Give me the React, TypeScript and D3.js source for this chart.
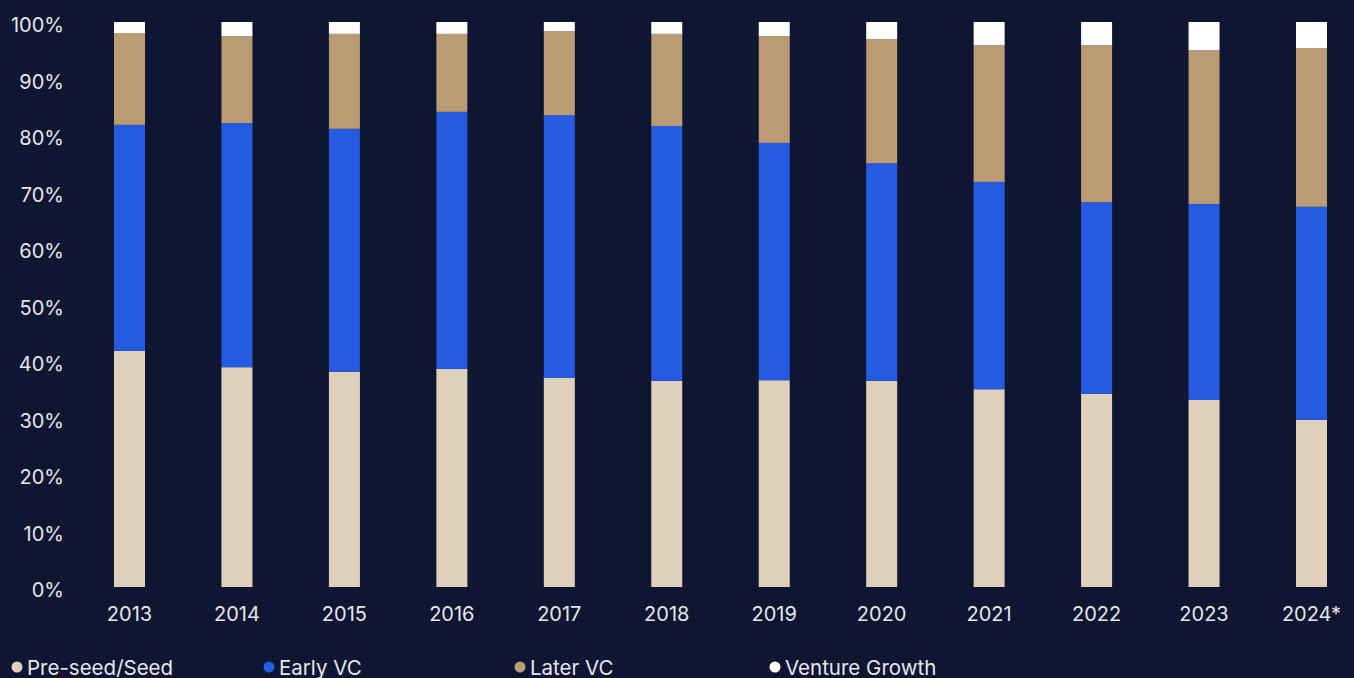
import React from "react";
import * as d3 from "d3";

const years = ["2013","2014","2015","2016","2017","2018","2019","2020","2021","2022","2023","2024*"];
const preSeed = [41.8, 38.9, 38.1, 38.6, 37.0, 36.5, 36.6, 36.5, 35.0, 34.2, 33.1, 29.6];
const earlyVC = [40.0, 43.2, 43.0, 45.5, 46.5, 45.1, 42.0, 38.5, 36.7, 33.9, 34.7, 37.7];
const laterVC = [16.25, 15.4, 16.8, 13.8, 14.9, 16.3, 18.9, 22.0, 24.2, 27.8, 27.2, 28.1];
const ventureGrowth = [1.95, 2.5, 2.1, 2.1, 1.6, 2.1, 2.5, 3.0, 4.1, 4.1, 5.0, 4.6];
const yTicks = [0, 10, 20, 30, 40, 50, 60, 70, 80, 90, 100];

const seriesNames = ["Pre-seed/Seed", "Early VC", "Later VC", "Venture Growth"];
const seriesColors = ["#dfd0bc", "#245be0", "#bb9b74", "#ffffff"];

const W = 1354, H = 678;
const FONT = "Inter, 'Noto Sans', sans-serif";

export default function App() {
  const x = d3.scalePoint<string>().domain(years).range([129.5, 1311.5]);
  const y = d3.scaleLinear().domain([0, 100]).range([587, 22]);
  const bw = 31;

  const table = years.map((yr, i) => ({
    year: yr,
    s0: preSeed[i], s1: earlyVC[i], s2: laterVC[i], s3: ventureGrowth[i],
  }));
  const stack = d3.stack<any>().keys(["s0", "s1", "s2", "s3"])(table);

  const legendX = [17, 269, 520, 775];

  return (
    <svg width={W} height={H} style={{ position: "absolute", left: 0, top: 0, display: "block" }}>
      <rect x={0} y={0} width={W} height={H} fill="#0f1631" />
      {yTicks.map((t) => (
        <text key={t} x={64} y={y(t) + 3} textAnchor="end" dominantBaseline="central"
          fill="#e6e6ec" fontSize={20} fontFamily={FONT}>{t}%</text>
      ))}
      {stack.map((layer, li) => (
        <g key={li} fill={seriesColors[li]}>
          {layer.map((d, i) => {
            const top = y(Math.min(100, d[1]));
            const bot = y(d[0]);
            return <rect key={i} x={(x(years[i]) as number) - bw / 2} y={top} width={bw} height={Math.max(0, bot - top)} />;
          })}
        </g>
      ))}
      {years.map((yr) => (
        <text key={yr} x={x(yr) as number} y={614} textAnchor="middle" dominantBaseline="central"
          fill="#e6e6ec" fontSize={20} fontFamily={FONT}>{yr}</text>
      ))}
      {seriesNames.map((n, i) => (
        <g key={n}>
          <circle cx={legendX[i]} cy={667} r={5.5} fill={seriesColors[i]} />
          <text x={legendX[i] + 10} y={667} dominantBaseline="central" fill="#e6e6ec" fontSize={20.5} fontFamily={FONT}>{n}</text>
        </g>
      ))}
    </svg>
  );
}
